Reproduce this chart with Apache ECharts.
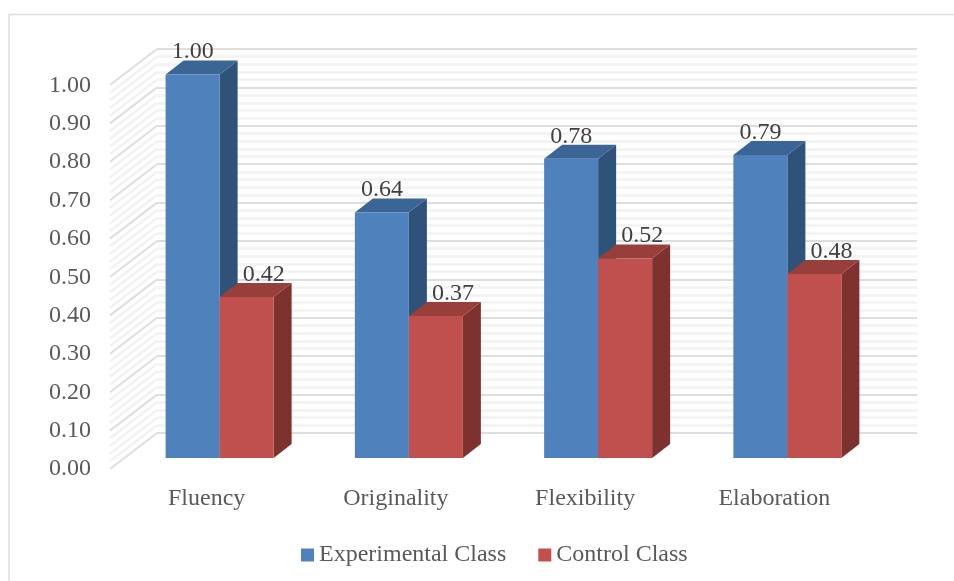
<!DOCTYPE html>
<html>
<head>
<meta charset="utf-8">
<style>html,body{margin:0;padding:0;background:#fff}#c{width:954px;height:581px}</style>
<script src="https://cdn.jsdelivr.net/npm/echarts@6/dist/echarts.min.js"></script>
</head>
<body>
<div id="c"></div>
<script>
const categories = ['Fluency', 'Originality', 'Flexibility', 'Elaboration'];
const experimentalClass = [1.00, 0.64, 0.78, 0.79];
const controlClass = [0.42, 0.37, 0.52, 0.48];
const seriesNames = ['Experimental Class', 'Control Class'];

const FONT = '"Liberation Serif", "Times New Roman", serif';
const BAR_W = 54, DX = 18, DY = 14;

function barRenderer(side, front, top, dark, labelShift) {
  return function (params, api) {
    const v = api.value(1);
    const c = api.coord([api.value(0), v]);
    const b = api.coord([api.value(0), 0]);
    const x0 = side < 0 ? c[0] - BAR_W : c[0];
    const x1 = x0 + BAR_W;
    const yT = c[1], yB = b[1];
    return {
      type: 'group',
      children: [
        { type: 'polygon', shape: { points: [[x1, yT], [x1 + DX, yT - DY], [x1 + DX, yB - DY], [x1, yB]] }, style: { fill: dark } },
        { type: 'polygon', shape: { points: [[x0, yT], [x0 + DX, yT - DY], [x1 + DX, yT - DY], [x1, yT]] }, style: { fill: top } },
        { type: 'rect', shape: { x: x0, y: yT, width: BAR_W, height: yB - yT }, style: { fill: front } },
        { type: 'text', style: { x: (x0 + x1) / 2 + labelShift, y: yT - 22.5, text: v.toFixed(2), fill: '#404040', font: '24px ' + FONT, align: 'center', verticalAlign: 'middle' }, z2: 20 }
      ]
    };
  };
}

const wallTicks = Array.from({ length: 51 }, (_, i) => i / 50);

const chart = echarts.init(document.getElementById('c'), null, { renderer: 'canvas' });
chart.setOption({
  animation: false,
  backgroundColor: '#fff',
  textStyle: { fontFamily: FONT },
  graphic: [
    { type: 'polyline', shape: { points: [[9, 581], [9, 14.5], [954, 14.5]] }, style: { stroke: '#dedede', lineWidth: 1.5, fill: null }, silent: true }
  ],
  legend: {
    data: seriesNames.map(n => ({ name: n, icon: 'rect' })),
    left: 301, top: 543, padding: 0,
    itemWidth: 13, itemHeight: 13, itemGap: 32,
    selectedMode: false,
    textStyle: { fontFamily: FONT, fontSize: 24, color: '#595959' }
  },
  grid: [
    { left: 125, right: 72, top: 74.5, height: 383.5 },
    { left: 157, right: 37, top: 49, height: 384 }
  ],
  xAxis: [
    {
      type: 'category', gridIndex: 0, data: categories,
      axisLine: { show: false }, axisTick: { show: false },
      axisLabel: { fontFamily: FONT, fontSize: 24, color: '#595959', margin: 29, padding: [0, 26, 0, 0] }
    },
    { type: 'category', gridIndex: 1, data: categories, show: false }
  ],
  yAxis: [
    {
      type: 'value', gridIndex: 0, min: 0, max: 1, interval: 0.1,
      axisLine: { show: false }, axisTick: { show: false }, splitLine: { show: false },
      axisLabel: { fontFamily: FONT, fontSize: 24, color: '#595959', margin: 34, formatter: v => v.toFixed(2), verticalAlign: 'top', lineHeight: 22 }
    },
    {
      type: 'value', gridIndex: 1, min: 0, max: 1, interval: 0.1,
      axisLine: { show: false }, axisTick: { show: false }, axisLabel: { show: false },
      splitLine: { show: true, lineStyle: { color: '#dedede', width: 2 } },
      minorTick: { show: false, splitNumber: 5 },
      minorSplitLine: { show: true, lineStyle: { color: '#f2f2f2', width: 2.5 } }
    }
  ],
  series: [
    {
      type: 'custom', name: 'wall', xAxisIndex: 1, yAxisIndex: 1, silent: true, z: 1,
      data: wallTicks.map(t => [0, t]),
      encode: { x: 0, y: 1 },
      renderItem: function (params, api) {
        const t = api.value(1);
        const p = api.coord([0, t]);
        const x = params.coordSys.x;
        const major = params.dataIndex % 5 === 0;
        return {
          type: 'line',
          shape: { x1: x, y1: p[1], x2: x - 47, y2: p[1] + 36 },
          style: { stroke: major ? '#dedede' : '#f2f2f2', lineWidth: major ? 2 : 2.5 }
        };
      }
    },
    {
      type: 'custom', name: seriesNames[0], xAxisIndex: 0, yAxisIndex: 0, z: 3,
      itemStyle: { color: '#4F81BD' },
      data: experimentalClass.map((v, i) => [i, v]),
      encode: { x: 0, y: 1 },
      renderItem: barRenderer(-1, '#4F81BD', '#3A6595', '#2F5279', 0)
    },
    {
      type: 'custom', name: seriesNames[1], xAxisIndex: 0, yAxisIndex: 0, z: 4,
      itemStyle: { color: '#C0504D' },
      data: controlClass.map((v, i) => [i, v]),
      encode: { x: 0, y: 1 },
      renderItem: barRenderer(1, '#C0504D', '#983E3B', '#7D3230', 17)
    }
  ]
});
</script>
</body>
</html>
